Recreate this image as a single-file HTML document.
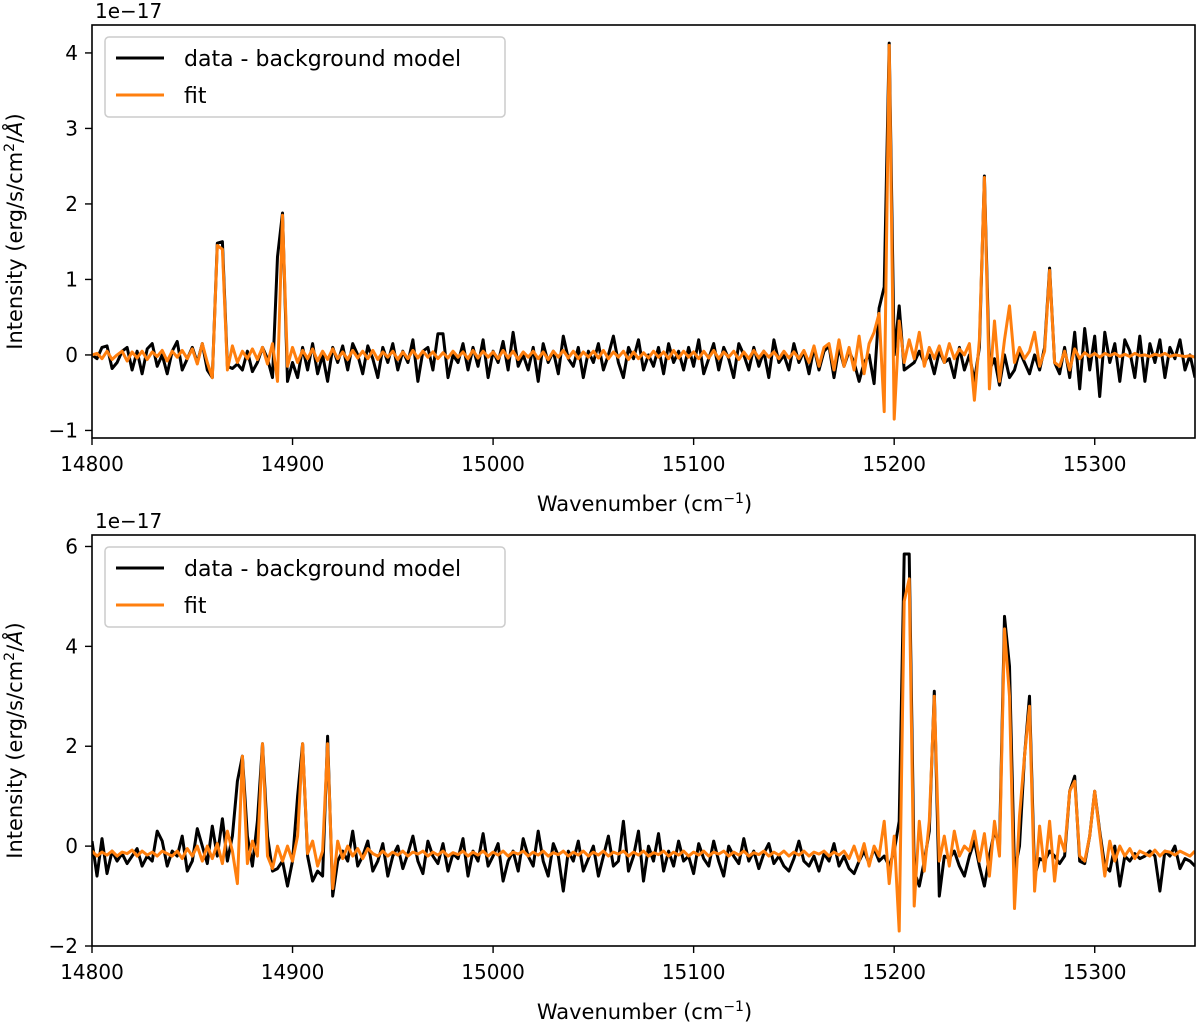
<!DOCTYPE html>
<html><head><meta charset="utf-8">
<style>
html,body{margin:0;padding:0;background:#fff;}
svg{display:block;font-family:"DejaVu Sans","Liberation Sans",sans-serif;}
</style></head>
<body>
<svg id="chart" width="1200" height="1023" viewBox="0 0 1200 1023" xmlns="http://www.w3.org/2000/svg"></svg>
<script>
const xStart = 14800, xStep = 2.5;
const xTicks = [14800,14900,15000,15100,15200,15300];
const topYTicks = [-1,0,1,2,3,4];
const botYTicks = [-2,0,2,4,6];
const topData = [0,-0.05,0.1,0.12,-0.18,-0.1,0.05,0.1,-0.2,0.05,-0.25,0.08,0.15,-0.15,0.0,-0.25,0.05,0.18,-0.2,-0.05,
0.1,-0.1,0.15,-0.2,-0.3,1.48,1.5,-0.15,-0.18,-0.12,-0.2,0.05,-0.22,-0.1,0.1,-0.05,-0.3,1.3,1.88,-0.35,
-0.1,-0.3,0.1,-0.2,0.15,-0.25,0.0,-0.35,0.1,-0.1,0.12,-0.2,0.15,0.0,-0.25,0.12,-0.05,-0.3,0.1,-0.1,
0.15,-0.2,0.05,-0.1,0.2,-0.35,0.05,0.1,-0.2,0.28,0.28,-0.3,0.0,-0.1,0.15,-0.2,0.1,-0.15,0.2,-0.3,
0.05,-0.1,0.18,-0.2,0.3,-0.15,0.0,-0.2,0.1,-0.35,0.15,-0.1,0.05,-0.25,0.25,-0.05,-0.15,0.1,-0.3,0.05,
-0.1,0.15,-0.2,0.0,0.25,-0.1,-0.3,0.1,-0.05,0.2,-0.2,0.0,-0.15,0.1,-0.25,0.15,-0.1,0.05,-0.2,0.1,
-0.15,0.2,-0.25,-0.05,0.15,-0.2,0.1,-0.05,-0.3,0.15,0.0,-0.2,0.1,-0.15,0.05,-0.3,0.2,-0.1,0.0,-0.2,
0.15,-0.1,0.05,-0.25,0.1,-0.2,0.05,0.12,-0.3,0.1,-0.15,0.05,-0.1,-0.35,-0.1,0.0,-0.38,0.62,0.9,4.13,
0.0,0.65,-0.2,-0.15,-0.1,0.05,-0.1,0.0,-0.25,0.05,-0.1,-0.05,-0.3,0.1,-0.2,0.0,-0.35,0.1,2.37,-0.2,
-0.05,-0.4,0.0,-0.3,-0.2,0.05,-0.1,-0.25,0.0,-0.2,0.1,1.15,-0.1,-0.25,0.1,-0.3,0.3,-0.45,0.35,-0.2,
0.25,-0.55,0.3,-0.1,0.15,-0.35,0.2,0.05,-0.3,0.25,-0.35,0.15,-0.1,0.2,-0.3,0.1,-0.05,0.2,-0.2,0.0,-0.3];
const topFit = [0,0.02,-0.05,0.05,-0.06,0.0,0.05,-0.08,0.04,-0.04,0.05,-0.06,0.04,-0.02,0.06,-0.08,0.05,-0.03,0.06,-0.05,
0.08,-0.12,0.15,-0.1,-0.3,1.45,1.4,-0.2,0.12,-0.1,0.05,-0.05,0.08,-0.06,0.1,-0.12,0.15,-0.35,1.85,-0.15,
0.1,-0.1,0.06,-0.05,0.08,-0.08,0.05,-0.06,0.08,-0.05,0.04,-0.06,0.06,-0.04,0.05,-0.05,0.06,-0.06,0.04,-0.03,
0.05,-0.06,0.04,-0.05,0.06,-0.04,0.05,-0.03,0.04,-0.05,0.03,-0.04,0.05,-0.03,0.04,-0.05,0.06,-0.04,0.05,-0.03,
0.04,-0.05,0.06,-0.04,0.05,-0.06,0.04,-0.03,0.05,-0.05,0.04,-0.06,0.05,-0.03,0.06,-0.04,0.05,-0.05,0.04,-0.03,
0.05,-0.04,0.06,-0.05,0.04,-0.03,0.05,-0.06,0.04,-0.05,0.03,-0.04,0.05,-0.03,0.04,-0.05,0.06,-0.04,0.05,-0.03,
0.04,-0.05,0.05,-0.04,0.06,-0.05,0.04,-0.03,0.05,-0.06,0.04,-0.05,0.06,-0.04,0.05,-0.03,0.04,-0.05,0.05,-0.04,
0.04,-0.05,0.06,-0.1,0.12,-0.15,0.1,0.15,-0.2,0.2,-0.15,0.1,-0.2,0.25,-0.25,0.15,0.3,0.55,-0.75,4.1,
-0.85,0.45,-0.1,0.2,-0.05,0.3,-0.15,0.1,-0.05,0.12,-0.1,0.15,-0.05,0.08,0.0,0.15,-0.6,0.2,2.35,-0.45,
0.45,-0.35,0.2,0.65,-0.1,0.1,-0.05,0.05,0.3,-0.15,0.05,1.12,-0.1,-0.15,0.05,-0.2,0.08,-0.05,0.03,-0.02,
0.02,-0.03,0.02,-0.01,0.02,-0.02,0.01,-0.02,0.02,-0.01,0.0,-0.02,0.01,-0.01,0.02,-0.02,0.0,-0.01,-0.02,-0.01,-0.03];
const botData = [0.1,-0.6,0.15,-0.55,-0.1,-0.3,-0.15,-0.35,-0.2,-0.05,-0.4,-0.2,-0.3,0.3,0.1,-0.4,-0.1,-0.2,0.2,-0.5,
-0.3,0.35,0.0,-0.35,0.4,-0.2,0.55,-0.3,0.2,1.3,1.8,0.2,-0.4,0.5,2.05,0.2,-0.5,-0.45,-0.3,-0.8,
-0.3,1.0,2.05,-0.2,-0.7,-0.5,-0.6,2.2,-1.0,-0.3,-0.1,-0.3,0.3,-0.4,-0.2,0.1,-0.5,-0.3,0.05,-0.6,
-0.2,0.0,-0.45,-0.15,0.2,-0.3,-0.55,0.1,-0.2,-0.35,0.05,-0.5,-0.15,-0.25,0.15,-0.6,-0.1,-0.3,0.25,-0.4,
-0.2,0.05,-0.7,-0.3,-0.1,-0.5,0.15,-0.2,-0.4,0.3,-0.3,-0.6,0.05,-0.2,-0.9,-0.1,-0.3,0.1,-0.5,-0.25,
0.0,-0.6,-0.2,0.2,-0.4,-0.3,0.5,-0.5,-0.2,0.3,-0.7,0.0,-0.3,0.25,-0.5,-0.1,-0.4,0.1,-0.3,-0.2,
-0.55,0.05,-0.25,-0.4,0.1,-0.3,-0.6,0.0,-0.2,-0.35,0.15,-0.3,-0.1,-0.45,-0.15,0.05,-0.35,-0.2,-0.4,-0.5,
-0.25,0.1,-0.3,-0.4,-0.2,-0.5,-0.15,-0.3,0.05,-0.4,-0.2,-0.45,-0.55,-0.3,-0.1,-0.35,-0.05,-0.3,-0.2,-0.4,
-0.1,0.5,5.85,5.85,-0.5,-0.8,-0.3,0.3,3.1,-1.0,-0.2,-0.25,-0.1,-0.4,-0.6,-0.2,0.1,-0.4,-0.8,-0.2,
0.3,0.0,4.6,3.6,-0.5,0.0,1.8,3.0,-0.6,-0.25,-0.3,-0.1,-0.2,-0.35,-0.2,1.1,1.4,-0.3,-0.35,0.2,
1.1,0.3,-0.4,-0.5,0.0,-0.8,-0.2,-0.3,-0.15,-0.25,-0.2,-0.1,-0.2,-0.9,-0.1,-0.2,0.0,-0.45,-0.25,-0.3,-0.4];
const botFit = [-0.1,-0.2,-0.12,-0.18,-0.1,-0.2,-0.12,-0.15,-0.08,-0.2,-0.1,-0.18,-0.12,-0.2,-0.1,-0.15,-0.2,-0.1,-0.25,-0.05,
-0.2,0.0,-0.3,0.0,-0.25,0.05,-0.35,0.3,-0.1,-0.75,1.8,-0.35,0.1,-0.2,2.05,-0.2,-0.45,0.0,-0.3,0.0,
-0.3,0.2,2.05,-0.15,0.1,-0.4,-0.1,2.05,-0.85,0.1,-0.25,0.0,-0.2,-0.05,-0.25,-0.05,-0.15,-0.2,-0.1,-0.2,
-0.12,-0.18,-0.1,-0.2,-0.12,-0.16,-0.1,-0.2,-0.12,-0.18,-0.1,-0.2,-0.13,-0.17,-0.1,-0.2,-0.12,-0.18,-0.1,-0.2,
-0.12,-0.18,-0.1,-0.2,-0.12,-0.16,-0.1,-0.2,-0.12,-0.18,-0.1,-0.2,-0.13,-0.17,-0.1,-0.2,-0.12,-0.18,-0.1,-0.2,
-0.12,-0.18,-0.1,-0.2,-0.12,-0.16,-0.1,-0.2,-0.12,-0.18,-0.1,-0.2,-0.13,-0.17,-0.1,-0.2,-0.12,-0.18,-0.1,-0.2,
-0.12,-0.18,-0.1,-0.2,-0.12,-0.16,-0.1,-0.2,-0.12,-0.18,-0.1,-0.2,-0.13,-0.17,-0.1,-0.2,-0.12,-0.18,-0.1,-0.2,
-0.12,-0.18,-0.1,-0.2,-0.12,-0.16,-0.1,-0.2,-0.12,-0.18,-0.1,-0.25,0.0,-0.3,0.05,-0.4,0.0,-0.2,0.5,-0.75,
0.2,-1.7,4.9,5.35,-1.2,0.5,-0.5,0.5,3.0,-0.3,0.2,-0.4,0.3,-0.2,0.0,-0.1,0.3,-0.3,0.25,-0.6,
0.5,-0.2,4.35,3.0,-1.25,0.6,1.8,2.8,-0.9,0.4,-0.5,0.5,-0.7,0.2,-0.1,1.1,1.3,-0.2,-0.3,0.2,
1.1,0.25,-0.6,0.1,-0.3,0.0,-0.2,-0.05,-0.25,-0.1,-0.15,-0.2,-0.08,-0.2,-0.1,-0.12,-0.18,-0.1,-0.15,-0.2,-0.1];

const NS='http://www.w3.org/2000/svg';
const svg=document.getElementById('chart');
function mk(tag,attrs,parent){const e=document.createElementNS(NS,tag);for(const k in attrs)e.setAttribute(k,attrs[k]);(parent||svg).appendChild(e);return e;}

function panel(p){
  const g=mk('g',{});
  
  
  const L=92,R=1195,xMin=14800,xMax=15350;
  const sx=v=>L+(v-xMin)/(xMax-xMin)*(R-L);
  const sy=v=>p.bottom-(v-p.yMin)/(p.yMax-p.yMin)*(p.bottom-p.top);
  const clip=mk('clipPath',{id:'clip'+p.id},g);
  mk('rect',{x:L,y:p.top,width:R-L,height:p.bottom-p.top},clip);
  const series=[[p.data,'#000','data-series'],[p.fit,'#ff7f0e','fit-series']];
  series.forEach(s=>{
    const pts=s[0].map((v,i)=>sx(xStart+i*xStep).toFixed(1)+','+sy(v).toFixed(1)).join(' ');
    const pl=mk('polyline',{points:pts,fill:'none',stroke:s[1],'stroke-width':3,'stroke-linejoin':'round','clip-path':'url(#clip'+p.id+')'},g);
    
    
  });
  const frame=mk('rect',{x:L,y:p.top,width:R-L,height:p.bottom-p.top,fill:'none',stroke:'#000','stroke-width':1.6},g);
  
  
  xTicks.forEach(t=>{
    const x=sx(t);
    mk('line',{x1:x,x2:x,y1:p.bottom,y2:p.bottom+7,stroke:'#000','stroke-width':1.4},g);
    const tx=mk('text',{x:x,y:p.bottom+33,'text-anchor':'middle','font-size':20},g);
    tx.textContent=t;
    
    
  });
  p.yTicks.forEach(t=>{
    const y=sy(t);
    mk('line',{x1:L-7,x2:L,y1:y,y2:y,stroke:'#000','stroke-width':1.4},g);
    const tx=mk('text',{x:L-14,y:y+7,'text-anchor':'end','font-size':20},g);
    tx.textContent=(t<0?'\u2212'+(-t):t);
    
    
  });
  const xl=mk('text',{x:(L+R)/2+1,y:p.bottom+73,'text-anchor':'middle','font-size':21},g);
  xl.innerHTML='Wavenumber (cm<tspan dy="-8" font-size="14">\u22121</tspan><tspan dy="8">)</tspan>';
  
  
  const cy=(p.top+p.bottom)/2;
  const yl=mk('text',{x:0,y:0,'text-anchor':'middle','font-size':21,transform:'translate(22,'+cy+') rotate(-90)'},g);
  yl.innerHTML='Intensity (erg/s/cm<tspan dy="-8" font-size="14">2</tspan><tspan dy="8">/<tspan font-style="italic">Å</tspan>)</tspan>';
  
  
  const off=mk('text',{x:95,y:p.top-7,'font-size':20},g);
  off.textContent='1e\u221217';
  
  
  const lg=mk('g',{},g);
  
  
  mk('rect',{x:105,y:p.top+12,width:400,height:80,rx:4,fill:'#fff','fill-opacity':0.8,stroke:'#ccc','stroke-width':1.5},lg);
  [['data - background model','#000',p.top+33],['fit','#ff7f0e',p.top+70]].forEach(e=>{
    const eg=mk('g',{},lg);
    
    
    mk('line',{x1:116,x2:164,y1:e[2],y2:e[2],stroke:e[1],'stroke-width':3},eg);
    const t=mk('text',{x:184,y:e[2]+8,'font-size':22},eg);
    t.textContent=e[0];
  });
}
panel({id:1,name:'top-panel',top:25,bottom:438,yMin:-1.1,yMax:4.37,yTicks:topYTicks,data:topData,fit:topFit});
panel({id:2,name:'bottom-panel',top:535,bottom:946,yMin:-2.0,yMax:6.23,yTicks:botYTicks,data:botData,fit:botFit});
</script>
</body></html>
